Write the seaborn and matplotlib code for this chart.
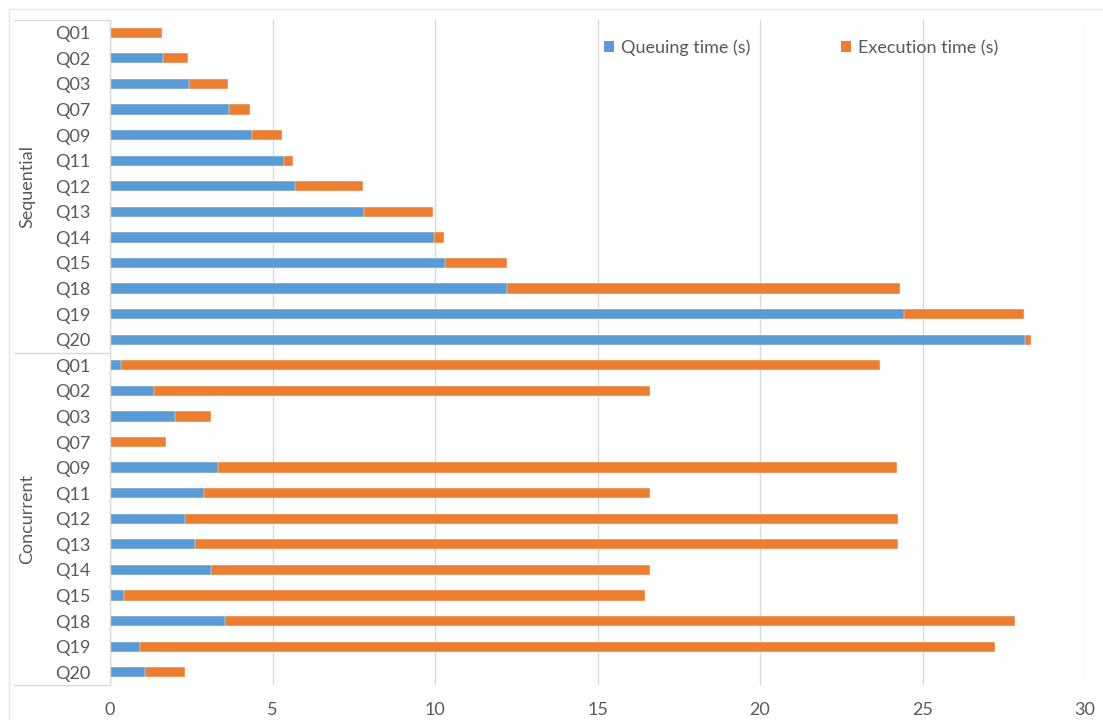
import matplotlib
matplotlib.use("Agg")
import matplotlib.pyplot as plt
import matplotlib.transforms as mtransforms
from matplotlib.patches import Rectangle, Patch
import seaborn as sns
import pandas as pd
import numpy as np

# Query labels and run modes
queries = ["Q01", "Q02", "Q03", "Q07", "Q09", "Q11", "Q12",
           "Q13", "Q14", "Q15", "Q18", "Q19", "Q20"]
modes = ["Sequential", "Concurrent"]

# Queuing / execution times in seconds
seq_queue = [0.00, 1.64, 2.44, 3.67, 4.37, 5.34, 5.70, 7.83, 9.97, 10.32, 12.23, 24.43, 28.15]
seq_exec = [1.60, 0.76, 1.19, 0.65, 0.91, 0.30, 2.08, 2.10, 0.32, 1.88, 12.07, 3.70, 0.19]
con_queue = [0.35, 1.35, 2.01, 0.00, 3.33, 2.88, 2.32, 2.60, 3.12, 0.44, 3.53, 0.92, 1.09]
con_exec = [23.35, 15.27, 1.10, 1.72, 20.90, 13.74, 21.93, 21.65, 13.50, 16.02, 24.32, 26.31, 1.23]

legend_labels = ["Queuing time (s)", "Execution time (s)"]
x_ticks = [0, 5, 10, 15, 20, 25, 30]

BLUE = "#5B9BD5"
ORANGE = "#ED7D31"
TEXT = "#595959"
GRID = "#D9D9D9"
FS = 13

sns.set_theme(style="white")
plt.rcParams["font.family"] = ["Lato", "DejaVu Sans"]

df = pd.DataFrame({
    "mode": [modes[0]] * len(queries) + [modes[1]] * len(queries),
    "query": queries + queries,
    "queue": seq_queue + con_queue,
    "exec": seq_exec + con_exec,
})
df["total"] = df["queue"] + df["exec"]
df["key"] = df["mode"] + "|" + df["query"]
order = list(df["key"])

fig = plt.figure(figsize=(11.03, 7.2), dpi=100)
ax = fig.add_axes([110 / 1103, 35 / 720, 975 / 1103, 665 / 720])

# Stacked bars: total (execution on top of queue) drawn first, queue over it
sns.barplot(data=df, x="total", y="key", order=order, orient="h",
            color=ORANGE, saturation=1, width=0.4, ax=ax,
            edgecolor="white", linewidth=0.3)
sns.barplot(data=df, x="queue", y="key", order=order, orient="h",
            color=BLUE, saturation=1, width=0.4, ax=ax,
            edgecolor="white", linewidth=0.3)

ax.set_xlim(0, 30)
ax.set_ylim(len(order) - 0.5, -0.5)
ax.set_xticks(x_ticks)
ax.set_xticklabels([str(t) for t in x_ticks])
ax.set_yticks(range(len(order)))
ax.set_yticklabels(df["query"])
ax.set_xlabel("")
ax.set_ylabel("")
ax.tick_params(axis="both", length=0, labelsize=FS, colors=TEXT)
ax.tick_params(axis="y", pad=14)
ax.tick_params(axis="x", pad=12)

ax.xaxis.grid(True, color=GRID, linewidth=1)
ax.set_axisbelow(True)
for s in ["top", "right", "bottom"]:
    ax.spines[s].set_visible(False)
ax.spines["left"].set_color(GRID)
ax.spines["left"].set_linewidth(1)

# Group brackets on the category axis
trans = mtransforms.blended_transform_factory(ax.transAxes, ax.transData)
x_left = (14 - 110) / 975
for yb in [-0.5, len(queries) - 0.5, len(order) - 0.5]:
    ax.plot([x_left, 0], [yb, yb], color=GRID, linewidth=1,
            transform=trans, clip_on=False)

for i, m in enumerate(modes):
    yc = i * len(queries) + (len(queries) - 1) / 2
    ax.text((27 - 110) / 975, yc, m, transform=trans, rotation=90,
            ha="center", va="center", fontsize=FS, color=TEXT)

handles = [Patch(facecolor=BLUE, edgecolor="none"),
           Patch(facecolor=ORANGE, edgecolor="none")]
ax.legend(handles, legend_labels, ncol=2, loc="center",
          bbox_to_anchor=(0.709, 0.958), frameon=False,
          handlelength=0.55, handleheight=0.55, handletextpad=0.4,
          columnspacing=5.0, fontsize=FS, labelcolor=TEXT)

# Chart-area outline
fig.patches.append(Rectangle((9 / 1103, -0.05), 1.2, 1 - 9 / 720 + 0.05,
                             transform=fig.transFigure, fill=False,
                             edgecolor="#E6E6E6", linewidth=1))

fig.savefig("out.png", dpi=100, facecolor="white")
